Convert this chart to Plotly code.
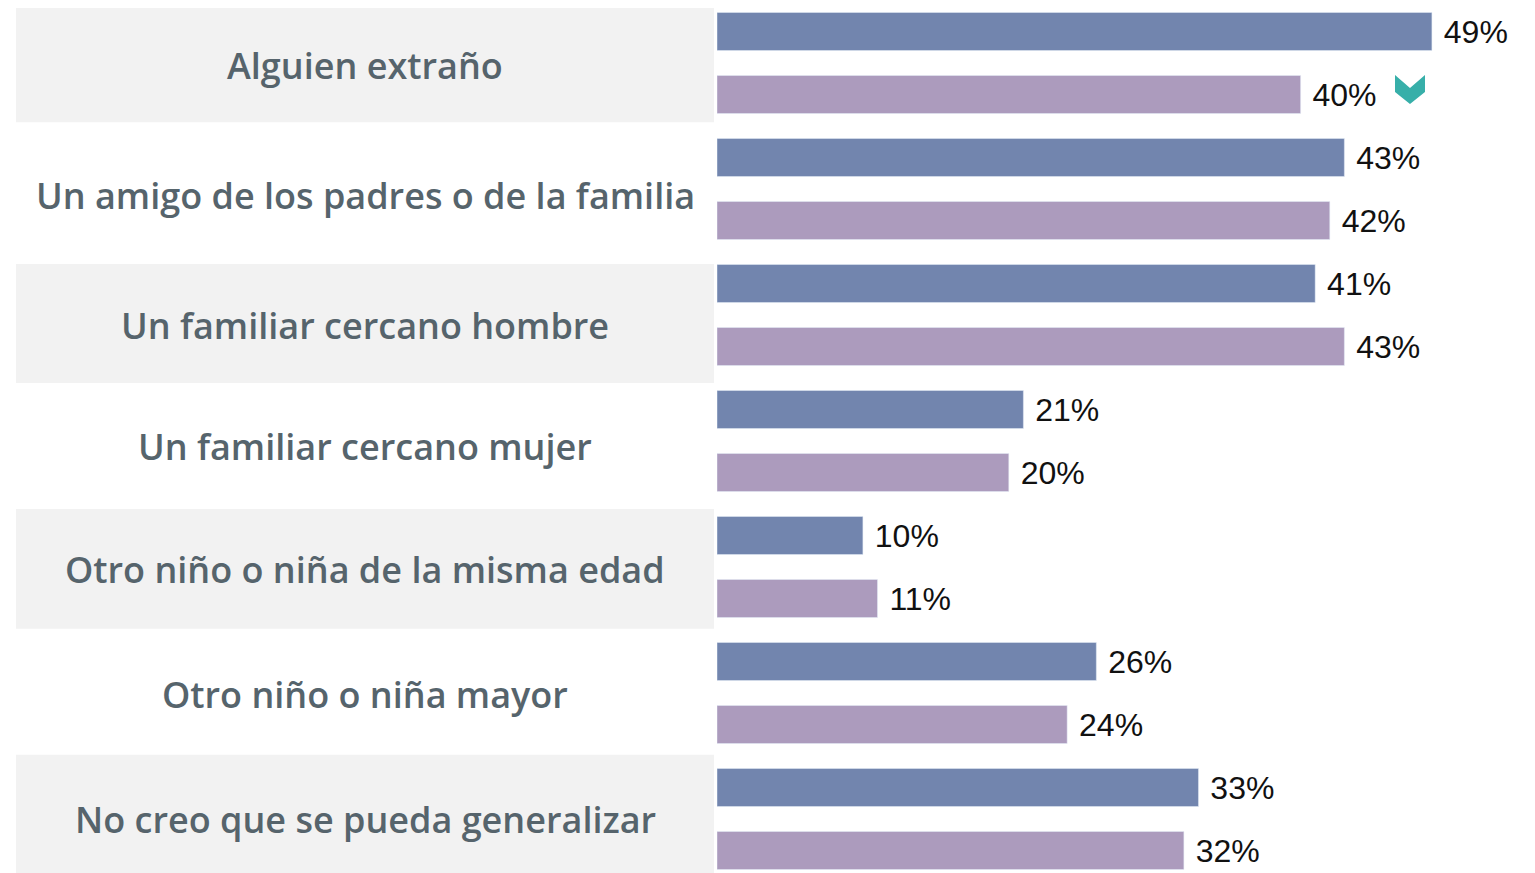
import plotly.graph_objects as go

# categories top to bottom
categories = [
    "Alguien extraño",
    "Un amigo de los padres o de la familia",
    "Un familiar cercano hombre",
    "Un familiar cercano mujer",
    "Otro niño o niña de la misma edad",
    "Otro niño o niña mayor",
    "No creo que se pueda generalizar",
]
# two survey waves (blue first, purple second)
serie_a = [49, 43, 41, 21, 10, 26, 33]
serie_b = [40, 42, 43, 20, 11, 24, 32]

azul = "#7285AE"
lila = "#AC9BBD"
texto = "#56646C"

# the page puts the figure 8px in from the corner
OFF = 8
W, H = 1535 - OFF, 873 - OFF


def px(x):
    return (x - OFF) / W


def py(y):
    return 1 - (y - OFF) / H


fig = go.Figure()
for vals, col in [(serie_a, azul), (serie_b, lila)]:
    fig.add_trace(go.Bar(
        y=categories, x=vals, orientation="h", marker_color=col,
        text=[f" {v}%" for v in vals], textposition="outside",
        textfont=dict(family="Liberation Sans, Arial", size=32, color="#111111"),
        constraintext="none", cliponaxis=False, showlegend=False,
    ))

# grey bands behind every other label (top/bottom in category units)
bandas = {0: (-0.46, 0.47), 2: (-0.405, 0.54), 4: (-0.46, 0.49), 6: (-0.51, 0.6)}
shapes = []
for i, (a, b) in bandas.items():
    shapes.append(dict(type="rect", xref="paper", yref="y",
                       x0=px(16), x1=px(714), y0=i + a, y1=i + b,
                       fillcolor="#F2F2F2", line_width=0, layer="below"))

# teal chevron next to the 40% bar
pts = [(1395, 75), (1410, 88), (1425, 75), (1425, 92), (1410, 104), (1395, 92)]
path = "M " + " L ".join(f"{px(x):.5f},{py(y):.5f}" for x, y in pts) + " Z"
shapes.append(dict(type="path", xref="paper", yref="paper", path=path,
                   fillcolor="#37AFA9", line_width=0))

ajuste = [-2, -6, -10, -5, -2, -1, 0]
annotations = [
    dict(x=px(365), xref="paper", y=c, yref="y", text=c, showarrow=False,
         xanchor="center", yshift=s,
         font=dict(family="Open Sans", size=36, color=texto, weight=600))
    for c, s in zip(categories, ajuste)
]

scale = 14.59  # px per percent
fig.update_layout(
    width=W, height=H, margin=dict(l=0, r=0, t=0, b=0),
    paper_bgcolor="white", plot_bgcolor="rgba(0,0,0,0)",
    barmode="group", bargap=0, bargroupgap=0.397,
    shapes=shapes, annotations=annotations,
    xaxis=dict(domain=[px(717), 1], range=[0, (1535 - 717) / scale],
               visible=False, fixedrange=True),
    yaxis=dict(type="category", range=[(873 - 63) / 126, (OFF - 63) / 126],
               visible=False, fixedrange=True),
)

fig.write_html("out.html")
